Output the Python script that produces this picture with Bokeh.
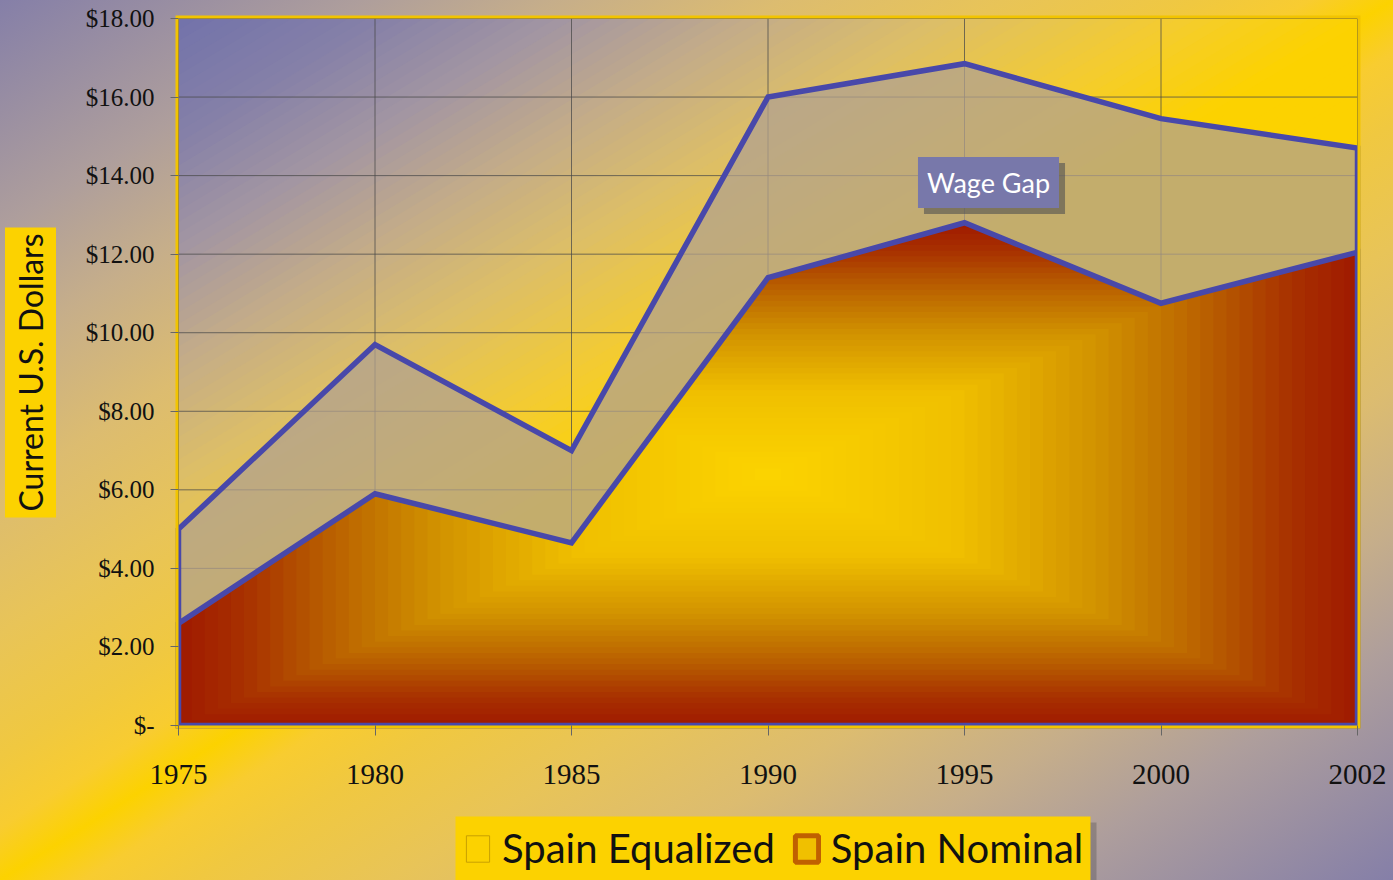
import math
from bokeh.plotting import figure
from bokeh.models import (Range1d, FixedTicker, Label, Legend, LegendItem,
                          ColumnDataSource)
from bokeh.embed import file_html
from bokeh.resources import INLINE

# ---------------- data ----------------
years = ["1975", "1980", "1985", "1990", "1995", "2000", "2002"]
spain_equalized = [5.0, 9.7, 7.0, 16.0, 16.85, 15.45, 14.7]
spain_nominal = [2.6, 5.9, 4.65, 11.4, 12.8, 10.75, 12.05]
y_ticks = [0, 2, 4, 6, 8, 10, 12, 14, 16, 18]
y_tick_labels = ["$-", "$2.00", "$4.00", "$6.00", "$8.00", "$10.00",
                 "$12.00", "$14.00", "$16.00", "$18.00"]
series_names = ["Spain Equalized", "Spain Nominal"]
y_title = "Current U.S. Dollars"
gap_label = "Wage Gap"

idx = list(range(len(years)))
x_max = idx[-1]
y_max = y_ticks[-1]

# ---------------- layout (pixels) ----------------
W, H = 1393, 880
PL, PR, PT, PB = 178, 1357, 18, 725          # plot-area edges on the canvas
sx = (PR - PL) / x_max                       # px per x unit
sy = (PB - PT) / y_max                       # px per y unit
x_lo, x_hi = -PL / sx, x_max + (W - PR) / sx
y_lo, y_hi = -(H - PB) / sy, y_max + PT / sy


def px_x(v):
    return (v - PL) / sx


def px_y(v):
    return (PB - v) / sy


# ---------------- helpers ----------------
def hex2rgb(h):
    h = h.lstrip("#")
    return tuple(int(h[i:i + 2], 16) for i in (0, 2, 4))


def interp_color(stops, t):
    t = min(max(t, 0.0), 1.0)
    for (t0, c0), (t1, c1) in zip(stops[:-1], stops[1:]):
        if t0 <= t <= t1:
            f = 0 if t1 == t0 else (t - t0) / (t1 - t0)
            a, b = hex2rgb(c0), hex2rgb(c1)
            r = [round(a[i] + (b[i] - a[i]) * f) for i in range(3)]
            return "#%02x%02x%02x" % tuple(r)
    return stops[-1][1]


def clip_half(poly, a, b, c):
    """keep part of polygon with a*x + b*y <= c"""
    out = []
    n = len(poly)
    for i in range(n):
        px, py = poly[i]
        qx, qy = poly[(i + 1) % n]
        fp = a * px + b * py - c
        fq = a * qx + b * qy - c
        if fp <= 0:
            out.append((px, py))
        if fp * fq < 0:
            t = fp / (fp - fq)
            out.append((px + t * (qx - px), py + t * (qy - py)))
    return out


def clip_rect(poly, x0, x1, y0, y1):
    poly = clip_half(poly, -1, 0, -x0)
    if poly:
        poly = clip_half(poly, 1, 0, x1)
    if poly:
        poly = clip_half(poly, 0, -1, -y0)
    if poly:
        poly = clip_half(poly, 0, 1, y1)
    return poly


# ---------------- figure ----------------
p = figure(width=W, height=H, x_range=Range1d(x_lo, x_hi),
           y_range=Range1d(y_lo, y_hi), output_backend="svg",
           toolbar_location=None, title=None, min_border=0)
p.border_fill_alpha = 0
p.background_fill_alpha = 0
p.outline_line_color = None
p.styles = {"background": "linear-gradient(to bottom right, #857fa8 0%, "
            "#ae9e9c 13%, #c6ae8a 20%, #dcbc70 28%, #e8c458 36%, "
            "#f0c840 43%, #f8cc30 47%, #fcd200 50%, #f8cc30 53%, "
            "#f0c840 57%, #e8c458 64%, #dcbc70 72%, #c6ae8a 80%, "
            "#ae9e9c 87%, #857fa8 100%)"}

# plot-area background gradient (diagonal, blue at top-left -> yellow)
frame_stops = [(0.0, "#7373aa"), (0.08, "#8580a8"), (0.16, "#a396a2"),
               (0.24, "#c4ac88"), (0.32, "#dcbe68"), (0.42, "#f4cc30"),
               (0.5, "#fcd200"), (1.0, "#fcd200")]
square = [(0, 0), (x_max, 0), (x_max, y_max), (0, y_max)]
fxs, fys, fcs = [], [], []
M = 70
for k in range(M + 1):
    s = k / M * 0.56
    poly = clip_half(square, -1.0 / x_max, 1.0 / y_max, 1 - 2 * s)
    if len(poly) < 3:
        continue
    fxs.append([q[0] for q in poly])
    fys.append([q[1] for q in poly])
    fcs.append(interp_color(frame_stops, s))
p.patches(xs="xs", ys="ys", fill_color="c", line_color=None, level="image",
          source=ColumnDataSource(dict(xs=fxs, ys=fys, c=fcs)))

# grid lines limited to the plot area
p.xgrid.visible = False
p.ygrid.visible = False
p.segment(x0=idx, y0=[0] * len(idx), x1=idx, y1=[y_max] * len(idx),
          line_color="#4a4a4a", line_alpha=0.75, line_width=1,
          level="underlay")
p.segment(x0=[0] * len(y_ticks), y0=y_ticks, x1=[x_max] * len(y_ticks),
          y1=y_ticks, line_color="#4a4a4a", line_alpha=0.75, line_width=1,
          level="underlay")

# axes fixed at the plot-area edges
p.xaxis.fixed_location = 0
p.yaxis.fixed_location = 0
p.xaxis.ticker = FixedTicker(ticks=idx)
p.xaxis.major_label_overrides = {i: y for i, y in zip(idx, years)}
p.yaxis.ticker = FixedTicker(ticks=y_ticks)
p.yaxis.major_label_overrides = {t: l for t, l in zip(y_ticks, y_tick_labels)}
for ax in (p.xaxis, p.yaxis):
    ax.axis_line_color = None
    ax.major_tick_line_color = "#666666"
    ax.major_tick_in = 0
    ax.minor_tick_line_color = None
    ax.major_label_text_font = "Liberation Serif"
    ax.major_label_text_color = "#111111"
p.xaxis.major_tick_out = 10
p.yaxis.major_tick_out = 8
p.xaxis.major_label_text_font_size = "29px"
p.yaxis.major_label_text_font_size = "25px"
p.xaxis.major_label_standoff = 29
p.yaxis.major_label_standoff = 16

blue = "#4848aa"

# equalized area
ex = [0] + idx + [x_max]
ey = [0] + spain_equalized + [0]
p.patch(ex, ey, fill_color="#b0a090", fill_alpha=0.75, line_color=blue,
        line_width=5.5, line_join="miter")

# nominal area with rectangular "from centre" gradient
nx = [0] + idx + [x_max]
ny = [0] + spain_nominal + [0]
area = list(zip(nx, ny))
cx, hw = x_max / 2, x_max / 2
cy, hh = max(spain_nominal) / 2, max(spain_nominal) / 2
nom_stops = [(0.0, "#a01c00"), (0.1, "#a83000"), (0.24, "#b85e00"),
             (0.42, "#d09000"), (0.67, "#f0c000"), (1.0, "#fcd400")]
bxs, bys, bcs = [], [], []
N = 45
for k in range(N):
    t = k / N
    poly = clip_rect(area, cx - hw * (1 - t), cx + hw * (1 - t),
                     cy - hh * (1 - t), cy + hh * (1 - t))
    if len(poly) < 3:
        continue
    bxs.append([q[0] for q in poly])
    bys.append([q[1] for q in poly])
    bcs.append(interp_color(nom_stops, t))
p.patches(xs="xs", ys="ys", fill_color="c", line_color=None,
          source=ColumnDataSource(dict(xs=bxs, ys=bys, c=bcs)))
p.patch(nx, ny, fill_alpha=0, line_color=blue, line_width=5.5,
        line_join="miter")

# plot-area border, a 3px gold frame just outside the plot area
bo = 1.5
p.quad(left=[-bo / sx], right=[x_max + bo / sx], bottom=[-bo / sy],
       top=[y_max + bo / sy], fill_alpha=0, line_color="#f2c400",
       line_width=3, line_join="miter")

# legend box: shadow + yellow panel behind the legend
p.quad(left=[px_x(461)], right=[px_x(1096)], top=[px_y(822)],
       bottom=[px_y(H + 10)], fill_color="#404040", fill_alpha=0.3,
       line_color=None)
p.quad(left=[px_x(455)], right=[px_x(1090)], top=[px_y(816)],
       bottom=[px_y(H + 10)], fill_color="#fcd200", fill_alpha=1,
       line_color=None)

# legend (dummy renderers for the glyphs)
nan = float("nan")
r_eq = p.patch([nan, nan, nan], [nan, nan, nan], fill_color="#fcd200",
               line_color="#c8a000", line_width=1)
r_nom = p.patch([nan, nan, nan], [nan, nan, nan], fill_color="#f0c000",
                line_color="#c06000", line_width=5)
legend = Legend(items=[LegendItem(label=series_names[0], renderers=[r_eq]),
                       LegendItem(label=series_names[1], renderers=[r_nom])],
                location=(463, 8), orientation="horizontal",
                background_fill_color="#fcd200", background_fill_alpha=1,
                border_line_color=None, label_text_font="Lato",
                label_text_font_size="40px", label_text_color="#111111",
                glyph_width=29, glyph_height=33, label_height=46,
                label_standoff=10, spacing=17, padding=18, margin=0)
p.add_layout(legend)

# y-axis title in a yellow box
p.add_layout(Label(x=30, y=H - 372, x_units="screen", y_units="screen",
                   text=y_title, angle=math.pi / 2, text_align="center",
                   text_baseline="middle", text_font="Lato",
                   text_font_size="32px", text_color="#111111",
                   background_fill_color="#fcd200", background_fill_alpha=1,
                   padding=6))

# Wage Gap callout with shadow
gx, gy = px_x(988), px_y(182)
p.add_layout(Label(x=gx, y=gy, text=gap_label, text_align="center",
                   text_baseline="middle", text_font="Lato",
                   text_font_size="27px", text_color="#505050",
                   x_offset=6, y_offset=-6,
                   background_fill_color="#505050", background_fill_alpha=0.6,
                   padding=9))
p.add_layout(Label(x=gx, y=gy, text=gap_label, text_align="center",
                   text_baseline="middle", text_font="Lato",
                   text_font_size="27px", text_color="white",
                   background_fill_color="#7878aa", background_fill_alpha=1,
                   padding=9))

open("out.html", "w").write(file_html(p, INLINE))
